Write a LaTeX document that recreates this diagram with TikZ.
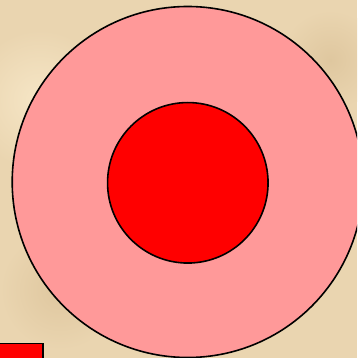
\documentclass[tikz,border=0pt]{standalone}
\begin{document}
\begin{tikzpicture}[x=1pt,y=-1pt,
  outline/.style={draw=black,line width=1.6pt}]
\definecolor{parch}{HTML}{EAD5B0}
\definecolor{parchlight}{HTML}{F6E6C6}
\definecolor{parchdark}{HTML}{DFC79F}
\definecolor{pinkfill}{HTML}{FF9999}
\clip (0,0) rectangle (357,358);
\fill[parch] (0,0) rectangle (357,358);
\shade[inner color=parchlight,outer color=parch] (40,100) circle (70);
\shade[inner color=parchdark,outer color=parch] (60,290) circle (60);
\shade[inner color=parchdark,outer color=parch] (330,60) circle (50);
\useasboundingbox (0,0) rectangle (357,358);
\node[outline,circle,fill=pinkfill,minimum size=351pt,inner sep=0pt] (outer) at (187.7,182) {};
\node[outline,circle,fill=red,minimum size=160.5pt,inner sep=0pt] (inner) at (187.8,182.8) {};
\node[outline,rectangle,fill=red,minimum width=50pt,minimum height=20pt,inner sep=0pt,anchor=north east] (box) at (44,342.5) {};
\end{tikzpicture}
\end{document}
